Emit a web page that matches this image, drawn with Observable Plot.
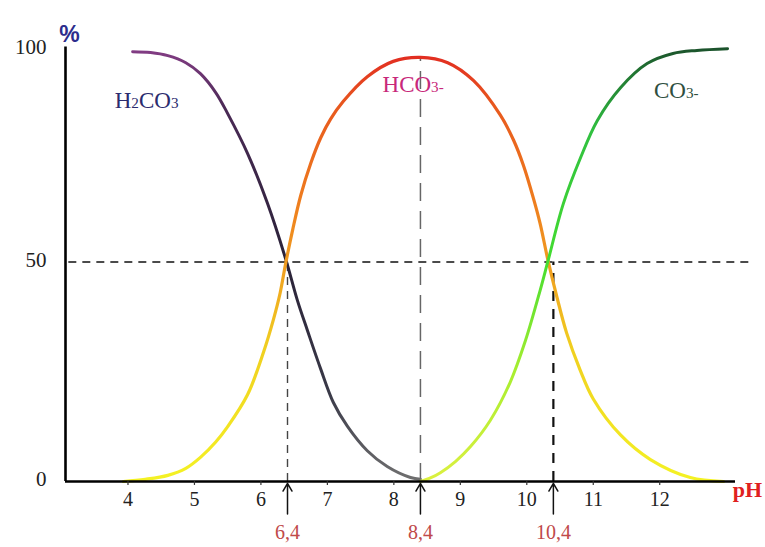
<!DOCTYPE html>
<html><head><meta charset="utf-8">
<script src="https://cdn.jsdelivr.net/npm/d3@7"></script>
<script src="https://cdn.jsdelivr.net/npm/@observablehq/plot@0.6"></script>
<style>body{margin:0;background:#fff}</style>
</head><body><div id="chart"></div>
<script>
// ---- data ----
const pH_H2CO3  = [4.07, 4.34, 4.60, 4.87, 5.09, 5.32, 5.50, 5.80, 6.10, 6.37, 6.55, 6.70, 6.90, 7.09, 7.30, 7.60, 7.90, 8.25, 8.40];
const pct_H2CO3 = [97.9, 97.7, 97.0, 95.4, 92.9, 88.6, 83.8, 74.7, 63.3, 50.8, 41.2, 34.4, 25.6, 18.0, 12.6, 7.0, 3.4, 0.9, 0.5];

const pH_HCO3  = [3.93, 4.26, 4.60, 4.87, 5.09, 5.32, 5.50, 5.80, 6.04, 6.19, 6.29, 6.37, 6.48, 6.60, 6.75, 6.90, 7.05, 7.24, 7.60, 7.99, 8.40, 8.81, 9.20, 9.60, 9.80, 9.95, 10.10, 10.20, 10.32, 10.45, 10.60, 10.80, 11.00, 11.41, 11.86, 12.46, 12.96];
const pct_HCO3 = [0.0, 0.5, 1.4, 3.0, 5.5, 9.0, 12.5, 19.8, 29.5, 37.0, 43.0, 49.5, 57.5, 65.2, 72.5, 78.3, 82.6, 86.6, 92.2, 95.7, 96.6, 95.4, 91.3, 83.5, 77.8, 72.0, 64.5, 58.8, 50.3, 42.2, 33.8, 25.5, 18.8, 10.6, 5.0, 0.9, 0.0];

const pH_CO3  = [8.40, 8.55, 8.70, 8.93, 9.15, 9.45, 9.75, 9.98, 10.20, 10.32, 10.55, 10.81, 11.06, 11.41, 11.81, 12.20, 12.56, 13.02];
const pct_CO3 = [0.0, 0.8, 2.0, 4.6, 7.9, 13.9, 22.6, 32.1, 43.5, 50.3, 63.3, 73.8, 82.2, 89.7, 95.2, 97.5, 98.2, 98.6];

const xTicks = [4, 5, 6, 7, 8, 9, 10, 11, 12];
const yTicks = [0, 50, 100];
const pKValues = [6.4, 8.4, 10.4];
const pKLabels = ["6,4", "8,4", "10,4"];
const speciesNames  = ["H2CO3", "HCO3-", "CO3-"];
const speciesLabelX = [4.28, 8.29, 12.25];
const speciesLabelY = [86.8, 90.4, 89.1];
const speciesColors = ["#2b2b6e", "#c8287a", "#2f4f40"];

// colour stops (value -> colour) along each curve
const stopsH2CO3 = [[100, "#8a3f8a"], [85, "#4a2a55"], [50, "#2a2238"], [20, "#3a3a48"], [0, "#707070"]];
const stopsHCO3  = [[100, "#e02222"], [85, "#e85a1e"], [65, "#ee7a1e"], [48, "#f0a020"], [30, "#f0d020"], [0, "#f4f224"]];
const stopsCO3   = [[100, "#1a4a2a"], [95, "#1f6a30"], [80, "#30c040"], [50, "#44dd30"], [25, "#a8ee30"], [0, "#dcf040"]];

const xMin = 3.06, xMax = 13.14;
const serif = "'Liberation Serif','Times New Roman',serif";
const rows = (xs, ys) => xs.map((x, i) => ({x, y: ys[i]}));

const grads = [
  {id: "gH2CO3", stops: stopsH2CO3},
  {id: "gHCO3", stops: stopsHCO3},
  {id: "gCO3", stops: stopsCO3}
];
const gradientDefs = (index, scales) => {
  const defs = d3.create("svg:defs");
  for (const g of grads) {
    const lg = defs.append("linearGradient").attr("id", g.id)
      .attr("gradientUnits", "userSpaceOnUse")
      .attr("x1", 0).attr("x2", 0)
      .attr("y1", scales.y(100)).attr("y2", scales.y(0));
    g.stops.forEach(([v, c]) => lg.append("stop").attr("offset", (100 - v) / 100).attr("stop-color", c));
  }
  return defs.node();
};

const chart = Plot.plot({
  width: 765,
  height: 547,
  marginLeft: 65,
  marginRight: 30,
  marginTop: 42,
  marginBottom: 66,
  style: {background: "#fff", fontFamily: serif},
  x: {domain: [xMin, xMax], axis: null},
  y: {domain: [0, 100], axis: null},
  marks: [
    gradientDefs,
    // reference lines
    Plot.ruleY([50], {x1: xMin + 0.05, x2: 13.36, stroke: "#111", strokeWidth: 1.4, strokeDasharray: "8,6"}),
    Plot.ruleX([pKValues[0]], {y1: 0, y2: 50, stroke: "#444", strokeWidth: 1.4, strokeDasharray: "8,6"}),
    Plot.ruleX([pKValues[1]], {y1: 0, y2: d3.max(pct_HCO3), stroke: "#666", strokeWidth: 1.5, strokeDasharray: "18,10"}),
    Plot.ruleX([pKValues[2]], {y1: 0, y2: 50, stroke: "#111", strokeWidth: 2.2, strokeDasharray: "10,8"}),
    // curves
    Plot.line(rows(pH_H2CO3, pct_H2CO3), {x: "x", y: "y", stroke: "url(#gH2CO3)", strokeWidth: 3, curve: "catmull-rom"}),
    Plot.line(rows(pH_HCO3, pct_HCO3), {x: "x", y: "y", stroke: "url(#gHCO3)", strokeWidth: 3.2, curve: "catmull-rom"}),
    Plot.line(rows(pH_CO3, pct_CO3), {x: "x", y: "y", stroke: "url(#gCO3)", strokeWidth: 3, curve: "catmull-rom"}),
    // axes
    Plot.ruleX([xMin], {y1: 0, y2: 99, stroke: "#000", strokeWidth: 2.6}),
    Plot.ruleY([0], {x1: xMin, x2: xMax, stroke: "#000", strokeWidth: 2.6}),
    Plot.ruleX(xTicks, {y1: 0, y2: -0.9, stroke: "#333", strokeWidth: 1.2}),
    Plot.text(xTicks, {x: d => d, y: 0, dy: 18, text: d => String(d), fontSize: 20, fill: "#222"}),
    Plot.text(yTicks.filter(d => d < 100), {x: xMin, y: d => d, dx: -19, dy: -2, text: d => String(d), textAnchor: "end", fontSize: 21, fill: "#222"}),
    Plot.text(yTicks.filter(d => d === 100), {x: xMin, y: d => d, dx: -19, dy: 5, text: d => String(d), textAnchor: "end", fontSize: 21, fill: "#222"}),
    // pK arrows and labels
    Plot.arrow(pKValues, {x1: d => d, x2: d => d, y1: -7.4, y2: -0.4, headLength: 9, stroke: "#111", strokeWidth: 1.5}),
    Plot.text(pKLabels, {x: (d, i) => pKValues[i], y: 0, dy: 51, text: d => d, fontSize: 20, fill: "#c04a4a"}),
    // species labels
    Plot.text(speciesNames, {x: (d, i) => speciesLabelX[i], y: (d, i) => speciesLabelY[i], text: d => d, fill: (d, i) => speciesColors[i], fontSize: 23}),
    // axis titles
    Plot.text(["%"], {frameAnchor: "top-left", dx: 4, dy: -17, text: d => d, textAnchor: "middle", fontSize: 23, fontWeight: "bold", fontFamily: "'Liberation Sans',Arial,sans-serif", fill: "#2c2c8c"}),
    Plot.text(["pH"], {frameAnchor: "bottom-right", dx: 12, dy: 15, text: d => d, textAnchor: "middle", fontSize: 22, fontWeight: "bold", fill: "#e02020"})
  ],
  color: {type: "identity"}
});

// subscript-like small digits in species names
d3.select(chart).selectAll("text").each(function () {
  const t = this.textContent;
  if (speciesNames.includes(t)) {
    const sel = d3.select(this);
    sel.text("");
    for (const ch of t) {
      const s = sel.append("tspan").text(ch);
      if (/[0-9\-]/.test(ch)) s.attr("font-size", "0.66em");
    }
  }
});

document.getElementById("chart").appendChild(chart);
</script>
</body></html>
